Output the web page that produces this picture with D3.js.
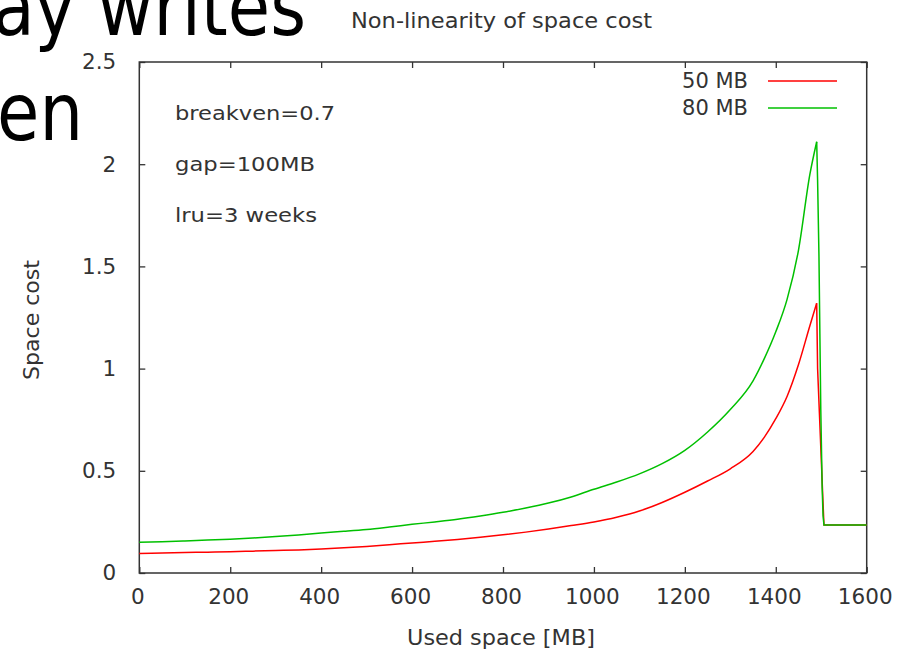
<!DOCTYPE html>
<html>
<head>
<meta charset="utf-8">
<script src="https://cdn.jsdelivr.net/npm/d3@7"></script>
<style>
  html, body { margin: 0; padding: 0; background: #fff; }
  svg { display: block; font-family: "DejaVu Sans", sans-serif; }
</style>
</head>
<body>
<svg id="chart" width="900" height="649"></svg>
<script>
// ---- data ----
const usedMB = [0,50,100,150,200,250,300,350,400,450,500,550,600,650,700,750,800,850,900,950,1000,1050,1100,1150,1200,1250,1300,1350,1375,1400,1425,1450,1475,1490];
const cost50 = [0.096,0.098,0.100,0.102,0.104,0.107,0.110,0.113,0.117,0.123,0.130,0.138,0.147,0.155,0.164,0.175,0.187,0.200,0.215,0.232,0.250,0.273,0.303,0.345,0.395,0.450,0.510,0.595,0.665,0.755,0.865,1.020,1.210,1.320];
const cost80 = [0.150,0.153,0.157,0.161,0.165,0.171,0.178,0.186,0.196,0.204,0.213,0.225,0.238,0.250,0.263,0.279,0.297,0.318,0.342,0.372,0.410,0.445,0.485,0.535,0.600,0.690,0.800,0.940,1.050,1.180,1.340,1.580,1.950,2.110];
const tailMB50 = [1492,1496,1500,1504,1506,1600];
const tailCost50 = [1.000,0.780,0.560,0.340,0.235,0.235];
const tailMB80 = [1492,1495,1497,1499,1502,1504,1506,1600];
const tailCost80 = [1.920,1.550,1.170,0.800,0.420,0.280,0.235,0.235];
const seriesNames = ["50 MB", "80 MB"];
const seriesColors = ["#ff0000", "#00c000"];
const xTicks = [0,200,400,600,800,1000,1200,1400,1600];
const yTicks = [0,0.5,1,1.5,2,2.5];
const notes = ["breakven=0.7", "gap=100MB", "lru=3 weeks"];

const series = [
  { name: seriesNames[0], color: seriesColors[0],
    main: usedMB.map((x,i)=>[x,cost50[i]]), tail: [[usedMB[usedMB.length-1], cost50[cost50.length-1]]].concat(tailMB50.map((x,i)=>[x,tailCost50[i]])) },
  { name: seriesNames[1], color: seriesColors[1],
    main: usedMB.map((x,i)=>[x,cost80[i]]), tail: [[usedMB[usedMB.length-1], cost80[cost80.length-1]]].concat(tailMB80.map((x,i)=>[x,tailCost80[i]])) }
];

// ---- layout ----
const L = 139.3, R = 866.7, T = 62, B = 573;
const svg = d3.select("#chart");
svg.append("rect").attr("width",900).attr("height",649).attr("fill","#fff");

// slide text behind the chart
svg.append("text").attr("transform","translate(306,35) scale(0.86,1)")
  .attr("text-anchor","end").attr("font-size",80).attr("fill","#000").text("ay writes");
svg.append("text").attr("transform","translate(83,140) scale(0.86,1)")
  .attr("text-anchor","end").attr("font-size",80).attr("fill","#000").text("en");

const x = d3.scaleLinear().domain([0,1600]).range([L,R]);
const y = d3.scaleLinear().domain([0,2.5]).range([B,T]);

const txtColor = "#333";
const axisColor = "#333";

// axes
const gx = svg.append("g").attr("transform",`translate(0,${B})`)
  .call(d3.axisBottom(x).tickValues(xTicks).tickFormat(d3.format("d")).tickSizeInner(-6).tickSizeOuter(0).tickPadding(16));
const gy = svg.append("g").attr("transform",`translate(${L},0)`)
  .call(d3.axisLeft(y).tickValues(yTicks).tickFormat(d=>String(d)).tickSizeInner(-6).tickSizeOuter(0).tickPadding(23));
const gxt = svg.append("g").attr("transform",`translate(0,${T})`)
  .call(d3.axisTop(x).tickValues(xTicks).tickFormat("").tickSizeInner(-6).tickSizeOuter(0));
const gyr = svg.append("g").attr("transform",`translate(${R},0)`)
  .call(d3.axisRight(y).tickValues(yTicks).tickFormat("").tickSizeInner(-6).tickSizeOuter(0));
[gx,gy,gxt,gyr].forEach(g=>{
  g.select(".domain").remove();
  g.selectAll(".tick line").attr("stroke",axisColor).attr("stroke-width",1.3);
  g.selectAll(".tick text").attr("fill",txtColor).attr("font-size",21.5).attr("font-family","DejaVu Sans, sans-serif");
});
gx.selectAll(".tick text").attr("dx",-2);

// frame
svg.append("rect").attr("x",L).attr("y",T).attr("width",R-L).attr("height",B-T)
  .attr("fill","none").attr("stroke",axisColor).attr("stroke-width",1.5);

// lines
const smooth = d3.line().x(d=>x(d[0])).y(d=>y(d[1])).curve(d3.curveMonotoneX);
const straight = d3.line().x(d=>x(d[0])).y(d=>y(d[1]));
series.forEach(s=>{
  svg.append("path").datum(s.main).attr("d",smooth)
    .attr("fill","none").attr("stroke",s.color).attr("stroke-width",1.5);
  svg.append("path").datum(s.tail).attr("d",straight)
    .attr("fill","none").attr("stroke",s.color).attr("stroke-width",1.5);
});

// legend
const legY = [81,108];
series.forEach((s,i)=>{
  svg.append("text").attr("x",748).attr("y",legY[i]+7).attr("text-anchor","end")
    .attr("font-size",21).attr("fill",txtColor).text(s.name);
  svg.append("line").attr("x1",768).attr("x2",837).attr("y1",legY[i]).attr("y2",legY[i])
    .attr("stroke",s.color).attr("stroke-width",1.5);
});

// annotations
const noteY = [120,171,222];
const noteW = [160,140,142];
notes.forEach((n,i)=>{
  svg.append("text").attr("x",175).attr("y",noteY[i]).attr("font-size",20)
    .attr("textLength",noteW[i]).attr("lengthAdjust","spacingAndGlyphs")
    .attr("fill",txtColor).text(n);
});

// title
svg.append("text").attr("x",351).attr("y",28).attr("font-size",21)
  .attr("textLength",301).attr("lengthAdjust","spacingAndGlyphs")
  .attr("fill",txtColor).text("Non-linearity of space cost");

// axis labels
svg.append("text").attr("x",501).attr("y",645).attr("text-anchor","middle").attr("font-size",21)
  .attr("textLength",188).attr("lengthAdjust","spacingAndGlyphs")
  .attr("fill",txtColor).text("Used space [MB]");
svg.append("text").attr("transform","translate(39,320) rotate(-90)").attr("text-anchor","middle")
  .attr("font-size",21).attr("textLength",120).attr("lengthAdjust","spacingAndGlyphs")
  .attr("fill",txtColor).text("Space cost");
</script>
</body>
</html>
